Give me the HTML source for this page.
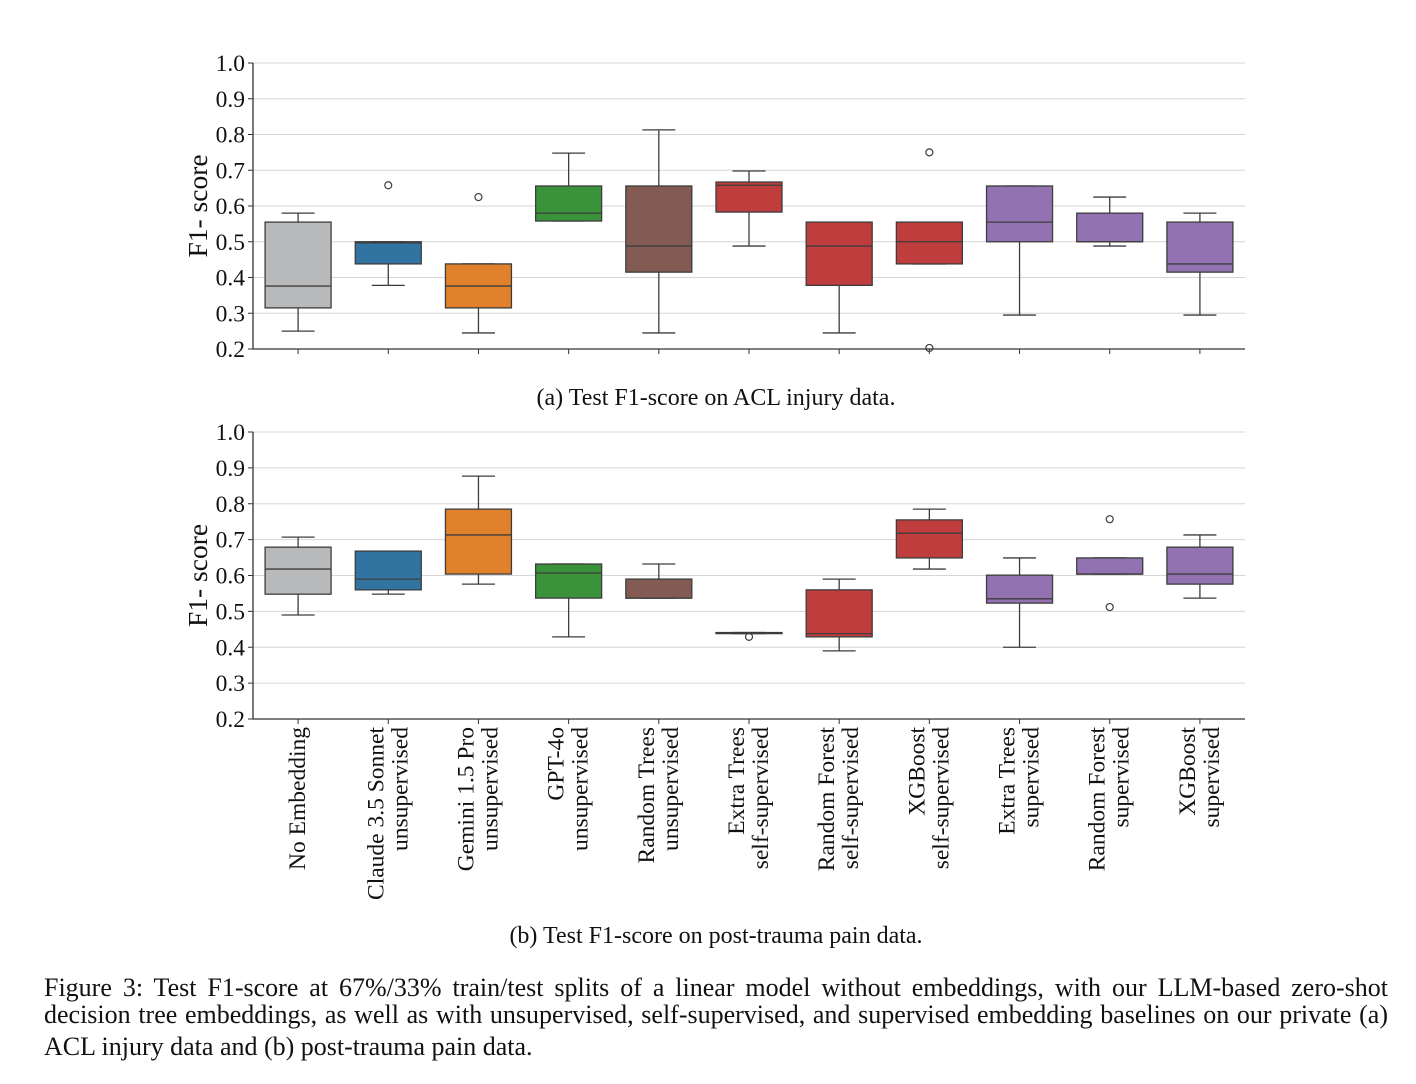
<!DOCTYPE html>
<html><head><meta charset="utf-8">
<style>
body{margin:0;background:#fff;width:1416px;height:1084px;overflow:hidden;position:relative;font-family:"Liberation Serif",serif;}
svg{position:absolute;left:0;top:0;}
.cap{position:absolute;left:44px;width:1344px;font-size:26px;color:#111;line-height:30px;}
.j{text-align:justify;text-align-last:justify;white-space:nowrap;}
</style></head><body>
<svg id="chart" width="1416" height="960" font-family="Liberation Serif, serif"></svg>
<div class="cap" style="top:973px">
<div class="j">Figure 3: Test F1-score at 67%/33% train/test splits of a linear model without embeddings, with our LLM-based zero-shot</div>
<div class="j" style="margin-top:-3px">decision tree embeddings, as well as with unsupervised, self-supervised, and supervised embedding baselines on our private (a)</div>
<div style="margin-top:2px">ACL injury data and (b) post-trauma pain data.</div>
</div>
<script>
const categories=[["No Embedding"],["Claude 3.5 Sonnet","unsupervised"],["Gemini 1.5 Pro","unsupervised"],["GPT-4o","unsupervised"],["Random Trees","unsupervised"],["Extra Trees","self-supervised"],["Random Forest","self-supervised"],["XGBoost","self-supervised"],["Extra Trees","supervised"],["Random Forest","supervised"],["XGBoost","supervised"]];
const colors=["#b8b9bb","#3274a1","#e1812c","#3a923a","#845b53","#c03d3e","#c03d3e","#c03d3e","#9372b2","#9372b2","#9372b2"];
// [low whisker, Q1, median, Q3, high whisker]
const aclStats=[[0.25,0.315,0.376,0.555,0.58],[0.378,0.438,0.497,0.5,0.5],[0.245,0.315,0.376,0.438,0.438],[0.558,0.558,0.58,0.656,0.748],[0.245,0.415,0.488,0.656,0.813],[0.488,0.583,0.658,0.667,0.698],[0.245,0.378,0.488,0.555,0.555],[0.438,0.438,0.5,0.555,0.555],[0.295,0.5,0.555,0.656,0.656],[0.488,0.5,0.5,0.58,0.625],[0.295,0.415,0.438,0.555,0.58]];
const aclOutliers=[[],[0.658],[0.625],[],[],[],[],[0.75,0.203],[],[],[]];
const painStats=[[0.49,0.548,0.618,0.679,0.707],[0.548,0.56,0.59,0.668,0.668],[0.576,0.604,0.713,0.785,0.877],[0.429,0.537,0.607,0.632,0.632],[0.537,0.537,0.537,0.59,0.632],[0.438,0.438,0.44,0.441,0.441],[0.39,0.429,0.438,0.56,0.59],[0.618,0.649,0.718,0.755,0.785],[0.40,0.523,0.535,0.601,0.649],[0.604,0.604,0.604,0.649,0.649],[0.537,0.576,0.604,0.679,0.713]];
const painOutliers=[[],[],[],[],[],[0.429],[],[],[],[0.757,0.512],[]];
const yTicks=[0.2,0.3,0.4,0.5,0.6,0.7,0.8,0.9,1.0];

const svg=document.getElementById('chart');
const NS='http://www.w3.org/2000/svg';
function mk(tag,attrs,parent){const e=document.createElementNS(NS,tag);for(const k in attrs)e.setAttribute(k,attrs[k]);(parent||svg).appendChild(e);return e;}
const x0=253,x1=1245,n=categories.length,step=(x1-x0)/n,bw=66;
function xPos(i){return x0+step*(i+0.5);}
function panel(top,bottom,stats,outs,name){
  const g=mk('g',{});
  
  
  const y=v=>bottom-(v-0.2)/0.8*(bottom-top);
  yTicks.forEach(t=>{
    if(t>0.2){const l=mk('line',{x1:x0,x2:x1,y1:y(t),y2:y(t),stroke:'#d6d6d6','stroke-width':1},g);}
    mk('line',{x1:x0-5,x2:x0,y1:y(t),y2:y(t),stroke:'#333'},g);
    const tx=mk('text',{x:x0-8,y:y(t)+8,'text-anchor':'end','font-size':23.5,fill:'#111'},g);
    tx.textContent=t.toFixed(1);
    
    
  });
  mk('line',{x1:x0,x2:x0,y1:top,y2:bottom,stroke:'#333','stroke-width':1.3},g);
  mk('line',{x1:x0,x2:x1,y1:bottom,y2:bottom,stroke:'#333','stroke-width':1.3},g);
  const yl=mk('text',{x:0,y:0,transform:`translate(207,${(top+bottom)/2}) rotate(-90)`,'text-anchor':'middle','font-size':27.5,fill:'#111'},g);
  yl.textContent='F1- score';
  
  
  stats.forEach((s,i)=>{
    const cx=xPos(i);
    mk('line',{x1:cx,x2:cx,y1:bottom,y2:bottom+5,stroke:'#333'},g);
    const bg=mk('g',{},g);
    
    
    const st='#3d3d3d';
    mk('line',{x1:cx,x2:cx,y1:y(s[0]),y2:y(s[1]),stroke:st,'stroke-width':1.3},bg);
    mk('line',{x1:cx,x2:cx,y1:y(s[3]),y2:y(s[4]),stroke:st,'stroke-width':1.3},bg);
    mk('line',{x1:cx-bw/4,x2:cx+bw/4,y1:y(s[0]),y2:y(s[0]),stroke:st,'stroke-width':1.3},bg);
    mk('line',{x1:cx-bw/4,x2:cx+bw/4,y1:y(s[4]),y2:y(s[4]),stroke:st,'stroke-width':1.3},bg);
    mk('rect',{x:cx-bw/2,y:y(s[3]),width:bw,height:Math.max(1,y(s[1])-y(s[3])),fill:colors[i],stroke:st,'stroke-width':1.3},bg);
    mk('line',{x1:cx-bw/2,x2:cx+bw/2,y1:y(s[2]),y2:y(s[2]),stroke:st,'stroke-width':1.3},bg);
    outs[i].forEach(o=>{const c=mk('circle',{cx:cx,cy:y(o),r:3.5,fill:'none',stroke:st,'stroke-width':1.2},bg);});
  });
  return y;
}
panel(63,349,aclStats,aclOutliers,'acl-panel');
panel(432,719,painStats,painOutliers,'pain-panel');
categories.forEach((c,i)=>{
  const cx=xPos(i);
  c.forEach((ln,k)=>{
    const off=c.length===1?7:(k===0?-5:19);
    const t=mk('text',{x:0,y:0,transform:`translate(${cx+off},727) rotate(-90)`,'text-anchor':'end','font-size':23.5,fill:'#111'});
    t.textContent=ln;
    
    
  });
});
const ca=mk('text',{x:716,y:405,'text-anchor':'middle','font-size':24,fill:'#111'});
ca.textContent='(a) Test F1-score on ACL injury data.';


const cb=mk('text',{x:716,y:943,'text-anchor':'middle','font-size':24,fill:'#111'});
cb.textContent='(b) Test F1-score on post-trauma pain data.';


</script>
</body></html>
